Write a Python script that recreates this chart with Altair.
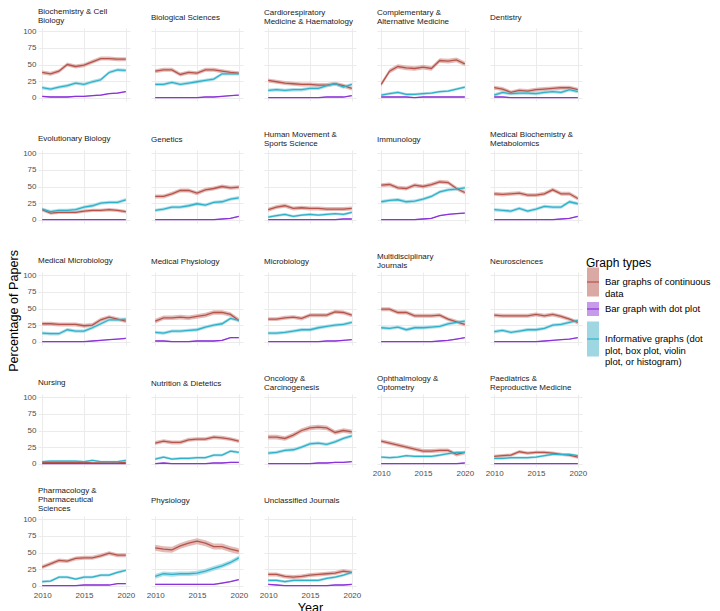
import json
import altair as alt
import pandas as pd

YEARS = list(range(2010, 2021))

CATEGORIES = [
    "Biochemistry & Cell Biology", "Biological Sciences",
    "Cardiorespiratory Medicine & Haematology", "Complementary & Alternative Medicine",
    "Dentistry", "Evolutionary Biology", "Genetics",
    "Human Movement & Sports Science", "Immunology",
    "Medical Biochemistry & Metabolomics", "Medical Microbiology",
    "Medical Physiology", "Microbiology", "Multidisciplinary Journals",
    "Neurosciences", "Nursing", "Nutrition & Dietetics",
    "Oncology & Carcinogenesis", "Ophthalmology & Optometry",
    "Paediatrics & Reproductive Medicine",
    "Pharmacology & Pharmaceutical Sciences", "Physiology",
    "Unclassified Journals",
]

PANEL_TITLES = [
    ["Biochemistry & Cell", "Biology"], ["Biological Sciences"],
    ["Cardiorespiratory", "Medicine & Haematology"], ["Complementary &", "Alternative Medicine"],
    ["Dentistry"], ["Evolutionary Biology"], ["Genetics"],
    ["Human Movement &", "Sports Science"], ["Immunology"],
    ["Medical Biochemistry &", "Metabolomics"], ["Medical Microbiology"],
    ["Medical Physiology"], ["Microbiology"], ["Multidisciplinary", "Journals"],
    ["Neurosciences"], ["Nursing"], ["Nutrition & Dietetics"],
    ["Oncology &", "Carcinogenesis"], ["Ophthalmology &", "Optometry"],
    ["Paediatrics &", "Reproductive Medicine"],
    ["Pharmacology &", "Pharmaceutical", "Sciences"], ["Physiology"],
    ["Unclassified Journals"],
]

TYPES = [
    "Bar graphs of continuous data",
    "Bar graph with dot plot",
    "Informative graphs (dot plot, box plot, violin plot, or histogram)",
]
LEGEND_LINES = [
    ["Bar graphs of continuous", "data"],
    ["Bar graph with dot plot"],
    ["Informative graphs (dot", "plot, box plot, violin", "plot, or histogram)"],
]

BAR_CONTINUOUS = [
    [38, 36, 40, 50, 47, 49, 54, 59, 59, 58, 58],
    [40, 42, 42, 35, 38, 37, 42, 42, 40, 38, 37],
    [26, 24, 22, 21, 20, 20, 19, 19, 21, 18, 14],
    [20, 40, 47, 45, 44, 46, 44, 56, 55, 57, 51],
    [15, 13, 8, 11, 10, 12, 13, 14, 15, 15, 12],
    [15, 10, 11, 11, 11, 13, 14, 14, 15, 14, 12],
    [35, 35, 39, 44, 44, 40, 45, 47, 50, 48, 49],
    [15, 19, 21, 17, 18, 17, 17, 16, 16, 16, 17],
    [52, 53, 48, 47, 52, 50, 53, 57, 56, 47, 41],
    [39, 38, 39, 40, 37, 37, 39, 45, 39, 39, 32],
    [27, 27, 26, 26, 26, 24, 25, 33, 37, 34, 31],
    [31, 36, 36, 37, 36, 38, 40, 44, 44, 41, 32],
    [34, 34, 36, 37, 35, 40, 40, 40, 45, 44, 40],
    [49, 49, 44, 44, 39, 39, 39, 40, 34, 30, 26],
    [40, 39, 39, 39, 39, 41, 39, 41, 38, 34, 29],
    [2, 2, 2, 2, 2, 2, 1, 1, 1, 1, 2],
    [31, 34, 32, 32, 36, 37, 37, 40, 39, 37, 34],
    [40, 40, 38, 43, 50, 54, 55, 54, 47, 50, 48],
    [34, 31, 28, 25, 22, 19, 19, 20, 20, 14, 17],
    [11, 12, 13, 18, 16, 17, 17, 16, 14, 13, 10],
    [28, 33, 38, 37, 41, 42, 42, 45, 49, 46, 46],
    [57, 55, 54, 60, 64, 67, 64, 59, 59, 55, 52],
    [17, 17, 14, 13, 14, 16, 17, 18, 19, 22, 20],
]

BAR_DOT = [
    [2, 1, 1, 1, 2, 2, 3, 4, 6, 7, 9],
    [0, 0, 0, 0, 0, 0, 1, 1, 2, 3, 4],
    [0, 0, 0, 0, 0, 0, 0, 1, 1, 1, 3],
    [1, 1, 1, 1, 0, 1, 1, 1, 1, 1, 1],
    [1, 1, 0, 0, 0, 0, 0, 0, 0, 0, 0],
    [0, 0, 0, 0, 0, 0, 0, 0, 0, 0, 0],
    [0, 0, 0, 0, 0, 0, 0, 0, 1, 2, 5],
    [0, 0, 0, 0, 0, 0, 0, 0, 0, 1, 1],
    [0, 0, 0, 0, 0, 1, 2, 6, 8, 9, 10],
    [0, 0, 0, 0, 0, 0, 0, 0, 1, 2, 5],
    [0, 0, 0, 0, 0, 0, 1, 2, 3, 4, 5],
    [1, 1, 0, 0, 0, 1, 1, 1, 2, 6, 6],
    [0, 0, 0, 0, 0, 0, 0, 1, 1, 2, 3],
    [0, 0, 0, 0, 0, 0, 0, 1, 2, 4, 6],
    [0, 0, 0, 0, 0, 0, 1, 2, 3, 4, 6],
    [0, 0, 0, 0, 0, 0, 0, 0, 0, 0, 0],
    [0, 1, 0, 0, 0, 0, 0, 1, 1, 2, 2],
    [0, 0, 0, 0, 0, 0, 1, 1, 2, 2, 3],
    [0, 0, 0, 0, 0, 0, 0, 0, 0, 0, 1],
    [0, 0, 0, 0, 0, 0, 0, 0, 0, 0, 0],
    [0, 0, 0, 0, 0, 1, 1, 1, 1, 3, 3],
    [2, 2, 2, 2, 2, 2, 2, 2, 4, 6, 9],
    [2, 1, 0, 0, 0, 0, 0, 0, 1, 1, 2],
]

INFORMATIVE = [
    [15, 13, 16, 18, 22, 20, 24, 27, 38, 42, 41],
    [20, 20, 23, 20, 22, 24, 26, 28, 36, 36, 36],
    [11, 12, 11, 12, 12, 14, 14, 18, 21, 16, 20],
    [4, 6, 8, 5, 5, 6, 7, 9, 10, 13, 16],
    [4, 8, 6, 7, 7, 6, 8, 9, 8, 12, 9],
    [16, 12, 14, 14, 15, 19, 21, 25, 26, 26, 30],
    [14, 16, 19, 19, 21, 24, 22, 26, 27, 31, 33],
    [4, 6, 8, 5, 7, 8, 7, 8, 9, 8, 11],
    [27, 29, 30, 27, 28, 31, 35, 42, 45, 46, 48],
    [15, 14, 13, 17, 13, 16, 20, 19, 19, 27, 24],
    [13, 12, 12, 18, 16, 16, 21, 27, 33, 33, 34],
    [14, 13, 16, 16, 17, 18, 22, 25, 27, 35, 32],
    [13, 13, 14, 16, 18, 18, 21, 23, 25, 26, 29],
    [21, 20, 22, 18, 21, 21, 22, 23, 27, 29, 31],
    [15, 17, 14, 16, 18, 18, 20, 25, 26, 29, 32],
    [3, 4, 4, 4, 4, 3, 5, 3, 3, 3, 5],
    [7, 10, 7, 8, 8, 9, 9, 13, 13, 19, 17],
    [16, 17, 20, 21, 25, 30, 31, 29, 33, 38, 42],
    [10, 9, 10, 12, 11, 11, 11, 13, 15, 17, 17],
    [8, 8, 9, 9, 9, 10, 12, 14, 14, 14, 12],
    [6, 7, 13, 13, 10, 13, 13, 16, 16, 20, 23],
    [14, 18, 17, 18, 18, 19, 22, 26, 30, 35, 42],
    [8, 8, 6, 8, 8, 8, 8, 11, 13, 16, 20],
]

# half-width of the confidence ribbon of each series, per panel
RIBBON_HALF = [
    [3, 1, 2.5], [3, 0.8, 2.5], [3, 0.8, 2.5], [3.5, 0.8, 2], [3, 0.8, 2.5],
    [2.5, 0.5, 2.5], [3, 0.8, 2.5], [3, 0.8, 2], [3, 1, 2.5], [3, 0.8, 2.5],
    [3, 0.8, 2.5], [3.5, 1, 2.5], [3, 0.8, 2.5], [3, 0.8, 2.5], [3, 0.8, 2.5],
    [1.5, 0.5, 1.5], [3, 0.8, 2], [3.5, 0.8, 2.5], [3, 0.8, 2], [2.5, 0.5, 2],
    [3, 0.8, 2], [4.5, 1, 3.5], [3, 0.8, 2],
]

LINE_COLORS = ["#B5544B", "#8B32D9", "#2DB2C9"]
RIBBON_COLORS = ["#DBA9A4", "#C89BEA", "#9ED6E2"]
SWATCH_HALF = [2.417, 1.167, 2.917]

FONT = "Liberation Sans"

rows = []
series = [BAR_CONTINUOUS, BAR_DOT, INFORMATIVE]
for ci, cat in enumerate(CATEGORIES):
    for ti, t in enumerate(TYPES):
        hw = RIBBON_HALF[ci][ti]
        for yr, v in zip(YEARS, series[ti][ci]):
            rows.append({"category": cat, "type": t, "year": yr, "value": v,
                         "lo": max(v - hw, 0), "hi": v + hw})
df = pd.DataFrame(rows)

shapes = [f"M-1,0H1V{-h}H-1V{h}H1V0Z" for h in SWATCH_HALF]
label_expr = ""
for t, lines in zip(TYPES, LEGEND_LINES):
    label_expr += f"datum.value == {json.dumps(t)} ? {json.dumps(lines)} : "
label_expr += "datum.label"

fill_scale = alt.Scale(domain=TYPES, range=RIBBON_COLORS)
stroke_scale = alt.Scale(domain=TYPES, range=LINE_COLORS)
shape_scale = alt.Scale(domain=TYPES, range=shapes)

PW, PH = 92, 73
COL_GAP, ROW_GAP = 21, 49

legend = alt.Legend(
    title="Graph types", orient="none", legendX=4 * (PW + COL_GAP) + PW + 4, legendY=230,
    labelExpr=label_expr, symbolSize=144, symbolDash=[12, 1000],
    symbolStrokeWidth=1.2, symbolOpacity=1, rowPadding=0, labelOffset=5,
    titlePadding=5, labelLimit=300,
)

xscale = alt.Scale(domain=[2009.5, 2020.5], nice=False, zero=False)
yscale = alt.Scale(domain=[-5, 105], nice=False, zero=False)

row_max_lines = {}
for i, t in enumerate(PANEL_TITLES):
    r = i // 5
    row_max_lines[r] = max(row_max_lines.get(r, 0), len(t))

LH = 9
panels = []
for i, cat in enumerate(CATEGORIES):
    r, c = divmod(i, 5)
    show_x = r == 4 or (r == 3 and c >= 3)
    show_y = c == 0
    xaxis = alt.Axis(values=[2010, 2015, 2020], format="d", labels=show_x,
                     title="Year" if i == 22 else None)
    yaxis = alt.Axis(values=[0, 25, 50, 75, 100], labels=show_y, title=None)
    base = alt.Chart(df).transform_filter(alt.datum.category == cat)
    area = base.mark_area(opacity=0.8).encode(
        x=alt.X("year:Q", scale=xscale, axis=xaxis),
        y=alt.Y("lo:Q", scale=yscale, axis=yaxis),
        y2="hi:Q",
        fill=alt.Fill("type:N", scale=fill_scale, legend=legend),
    )
    line = base.mark_line(strokeWidth=1.3).encode(
        x=alt.X("year:Q", scale=xscale, axis=xaxis),
        y=alt.Y("value:Q", scale=yscale, axis=yaxis),
        stroke=alt.Stroke("type:N", scale=stroke_scale, legend=legend),
    )
    keys = base.transform_filter("false").mark_point(filled=True).encode(
        fill=alt.Fill("type:N", scale=fill_scale, legend=legend),
        stroke=alt.Stroke("type:N", scale=stroke_scale, legend=legend),
        shape=alt.Shape("type:N", scale=shape_scale, legend=legend),
    )
    dy = -(row_max_lines[r] - len(PANEL_TITLES[i])) * LH / 2
    panel = alt.layer(area, line, keys).properties(
        width=PW, height=PH,
        title=alt.TitleParams(text=PANEL_TITLES[i], anchor="start", dy=dy),
    )
    panels.append(panel)

chart = alt.concat(*panels, columns=5, spacing={"row": ROW_GAP, "column": COL_GAP},
                   bounds="flush").resolve_scale(
    fill="shared", stroke="shared", shape="shared"
).properties(
    padding={"left": 0, "top": 0, "right": 0, "bottom": 0},
    title=alt.TitleParams(text="Percentage of Papers", orient="left", anchor="middle",
                          frame="bounds", fontSize=12.6, color="#000000", offset=2),
).configure_view(stroke=None).configure_axis(
    domain=False, ticks=False, grid=True, gridColor="#EBEBEB", gridWidth=1,
    labelColor="#4D4D4D", labelFontSize=8, labelFont=FONT, labelPadding=2,
    titleFont=FONT, titleFontSize=12.6, titleFontWeight="normal",
    titleColor="#000000", titlePadding=2,
).configure_title(
    font=FONT, fontSize=8, fontWeight="normal", color="#1A1A1A",
    anchor="start", lineHeight=LH, offset=2, frame="group",
).configure_legend(
    titleFont=FONT, titleFontSize=12, titleFontWeight="normal", titleColor="#000000",
    labelFont=FONT, labelFontSize=9.5, labelColor="#000000",
    symbolFillColor="#cccccc", symbolStrokeColor="#333333",
)

chart.save("out.html", embed_options={"renderer": "svg", "actions": False})
